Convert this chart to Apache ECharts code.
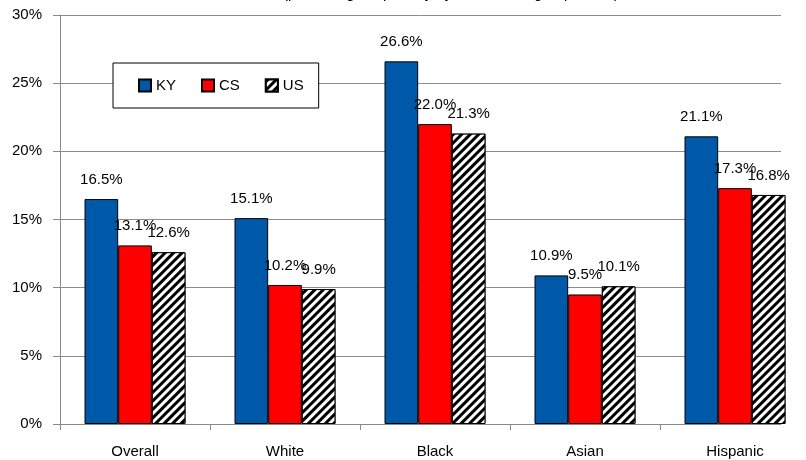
<!DOCTYPE html>
<html><head><meta charset="utf-8">
<script src="https://cdn.jsdelivr.net/npm/echarts@6/dist/echarts.min.js"></script>
<style>html,body{margin:0;padding:0;background:#fff}#c{width:806px;height:460px}</style>
</head><body><div id="c"></div>
<script>
const categories = ['Overall', 'White', 'Black', 'Asian', 'Hispanic'];
const seriesNames = ['KY', 'CS', 'US'];
const kyValues = [16.5, 15.1, 26.6, 10.9, 21.1];
const csValues = [13.1, 10.2, 22.0, 9.5, 17.3];
const usValues = [12.6, 9.9, 21.3, 10.1, 16.8];
const yTicks = [0, 5, 10, 15, 20, 25, 30];

const FONT = '"Liberation Sans", Arial, sans-serif';
const chart = echarts.init(document.getElementById('c'));
const labelCfg = {show: true, position: 'top', distance: 12, color: '#000', fontSize: 15, fontFamily: FONT,
  formatter: p => p.value.toFixed(1) + '%'};
const stripe = {symbol: 'rect', color: '#000', backgroundColor: '#fff', dashArrayX: [[1, 0]], dashArrayY: [3, 3], rotation: -Math.PI / 4, symbolSize: 1};
const yMin = yTicks[0], yMax = yTicks[yTicks.length - 1], yStep = yTicks[1] - yTicks[0];
chart.setOption({
  animation: false,
  aria: {enabled: false},
  graphic: [{type: 'text', left: 283, top: -14, style: {text: '(percentage in poverty by race/ethnic group, 2012)', fontSize: 15, fontFamily: FONT, fill: '#000'}}],
  grid: [
    {left: 60, width: 750, top: 15, bottom: 36, outerBoundsMode: 'none', containLabel: false},
    {left: 60, right: 25, top: 15, bottom: 36, outerBoundsMode: 'none', containLabel: false}
  ],
  legend: {
    left: 113, top: 63, padding: [15, 15, 15, 25], borderColor: '#000', borderWidth: 1, backgroundColor: '#fff',
    itemWidth: 12, itemHeight: 12, itemGap: 25, icon: 'rect',
    textStyle: {fontSize: 15, fontFamily: FONT, color: '#000'},
    data: seriesNames
  },
  xAxis: [
    {
      type: 'category', data: categories, gridIndex: 0,
      axisLine: {show: false},
      axisTick: {show: true, length: 6, lineStyle: {color: '#888'}},
      axisLabel: {color: '#000', fontSize: 15, fontFamily: FONT, margin: 20}
    },
    {
      type: 'value', gridIndex: 1, min: 0, max: 1,
      axisLine: {show: true, lineStyle: {color: '#888', width: 1}},
      axisTick: {show: false}, axisLabel: {show: false}, splitLine: {show: false}
    }
  ],
  yAxis: [
    {
      type: 'value', gridIndex: 0, min: yMin, max: yMax, interval: yStep,
      axisLine: {show: true, lineStyle: {color: '#888'}},
      axisTick: {show: true, length: 7, lineStyle: {color: '#888'}},
      splitLine: {show: false},
      axisLabel: {color: '#000', fontSize: 15, fontFamily: FONT, margin: 18, formatter: v => v + '%'}
    },
    {
      type: 'value', gridIndex: 1, min: yMin, max: yMax, interval: yStep,
      axisLine: {show: false}, axisTick: {show: false}, axisLabel: {show: false},
      splitLine: {show: true, lineStyle: {color: '#8c8c8c', width: 1}}
    }
  ],
  series: [
    {name: 'KY', type: 'bar', data: kyValues, barGap: '0%', barCategoryGap: '32.7%',
      itemStyle: {color: '#0058A8', borderColor: '#000', borderWidth: 1}, label: labelCfg},
    {name: 'CS', type: 'bar', data: csValues, barGap: '0%', barCategoryGap: '32.7%',
      itemStyle: {color: '#FF0000', borderColor: '#000', borderWidth: 1}, label: labelCfg},
    {name: 'US', type: 'bar', data: usValues, barGap: '0%', barCategoryGap: '32.7%',
      itemStyle: {color: '#fff', borderColor: '#000', borderWidth: 1, decal: stripe}, label: labelCfg}
  ]
});
</script></body></html>
